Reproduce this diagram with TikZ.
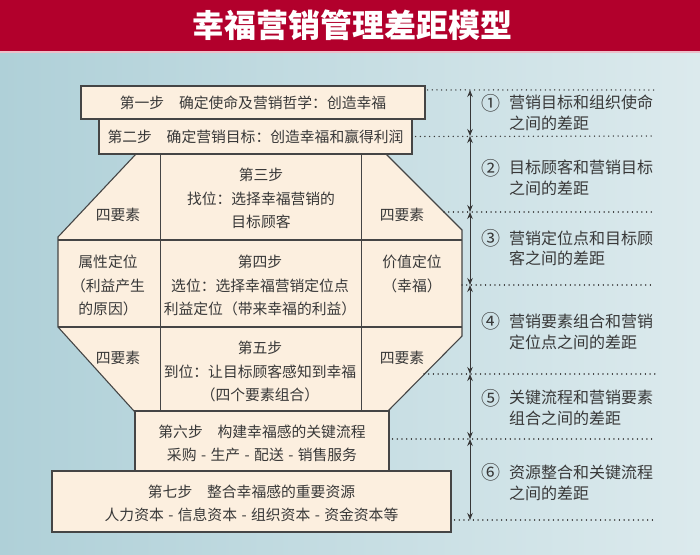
\documentclass[tikz,border=0pt]{standalone}
\usepackage{fontspec}
\newfontfamily\cjk{Noto Sans CJK SC}
\usetikzlibrary{arrows.meta,calc}
\definecolor{bgL}{HTML}{AFD0D8}
\definecolor{bgR}{HTML}{DCEAED}
\definecolor{titlered}{HTML}{B2002C}
\definecolor{cream}{HTML}{FCEFDF}
\definecolor{ink}{HTML}{383838}
\definecolor{edge}{HTML}{454545}
\newcommand{\sepdash}{\hspace{0.3em}-\hspace{0.3em}}
\begin{document}
\begin{tikzpicture}[x=1pt,y=-1pt,
 txt/.style={font=\cjk\fontsize{14.8}{23.3}\selectfont, text=ink, align=center, inner sep=0pt},
 lbl/.style={font=\cjk\fontsize{16}{20.5}\selectfont, text=ink, align=left, anchor=west, inner sep=0pt},
 num/.style={font=\cjk\fontsize{19}{20.5}\selectfont, text=ink, inner sep=0pt},
 stepbox/.style={draw=edge, fill=cream, line width=1.1pt, inner sep=0pt, align=center,
   font=\cjk\fontsize{14.8}{23.3}\selectfont, text=ink},
 gapline/.style={draw=ink, line width=1.5pt, dash pattern=on 0.01pt off 4.7pt, line cap=round},
 gaparrow/.style={draw=ink, line width=0.9pt, {Stealth[length=7pt,width=5.5pt]}-{Stealth[length=7pt,width=5.5pt]}}
]
\useasboundingbox (0,0) rectangle (700,554);
\shade[left color=bgL, right color=bgR] (0,51) rectangle (700,554);
\fill[titlered] (0,0) rectangle (700,51);
\fill[white!75!titlered] (0,51) rectangle (700,53);
\node[font=\cjk\bfseries\fontsize{32}{34}\selectfont, text=white, inner sep=0pt] (title) at (352,25) {幸福营销管理差距模型};

% octagon
\draw[stepbox] (136,154) -- (386,154) -- (462,230) -- (462,336) -- (388,411) -- (134,411) -- (58,327) -- (58,237) -- cycle;
\draw[edge, line width=1.1pt] (160.5,154) -- (160.5,411) (361.5,154) -- (361.5,411)
  (58,240) -- (462,240) (58,327) -- (462,327);

% step boxes
\node[stepbox, minimum width=344pt, minimum height=33pt] (s1) at (253,102.5) {第一步\hspace{1em}确定使命及营销哲学：创造幸福};
\node[stepbox, minimum width=313pt, minimum height=35pt] (s2) at (255.5,136.5) {第二步\hspace{1em}确定营销目标：创造幸福和赢得利润};
\node[stepbox, minimum width=254pt, minimum height=60pt] (s6) at (262,441) {};
\node[txt] (t6) at (262,443.5) {第六步\hspace{1em}构建幸福感的关键流程\\采购\sepdash 生产\sepdash 配送\sepdash 销售服务};
\node[stepbox, minimum width=399pt, minimum height=61pt] (s7) at (251.5,501.5) {};
\node[txt] (t7) at (251.5,503.5) {第七步\hspace{1em}整合幸福感的重要资源\\人力资本\sepdash 信息资本\sepdash 组织资本\sepdash 资金资本等};

% octagon cells
\node[txt] (c3) at (261,198.5) {第三步\\找位：选择幸福营销的\\目标顾客};
\node[txt] (l3) at (118,215) {四要素};
\node[txt] (r3) at (402,215) {四要素};
\node[txt] (l4) at (108,285.5) {属性定位\\（利益产生\\的原因）};
\node[txt] (c4) at (260,285.5) {第四步\\选位：选择幸福营销定位点\\利益定位（带来幸福的利益）};
\node[txt] (r4) at (412,274) {价值定位\\（幸福）};
\node[txt] (l5) at (118,358) {四要素};
\node[txt] (r5) at (402,358) {四要素};
\node[txt] (c5) at (260,371.5) {第五步\\到位：让目标顾客感知到幸福\\（四个要素组合）};

% dotted level lines
\coordinate (e1) at (655,90);
\coordinate (e2) at (655,136);
\coordinate (e3) at (655,212);
\coordinate (e4) at (655,285);
\coordinate (e5) at (655,374);
\coordinate (e6) at (655,439);
\coordinate (e7) at (655,520);
\coordinate (b3) at (444,212);
\coordinate (b4) at (462,285);
\coordinate (b5) at (424,374);
\draw[gapline] ($(s1.north east)+(2,4.5)$) -- (e1);
\draw[gapline] ($(s2.east)+(3,0)$) -- (e2);
\draw[gapline] (b3) -- (e3);
\draw[gapline] (b4) -- (e4);
\draw[gapline] (b5) -- (e5);
\draw[gapline] ($(s6.east)+(3,-2)$) -- (e6);
\draw[gapline] ($(s7.east)+(3,18.5)$) -- (e7);

% arrows
\coordinate (a1) at (470,90);
\coordinate (a2) at (470,136);
\coordinate (a3) at (470,212);
\coordinate (a4) at (470,285);
\coordinate (a5) at (470,374);
\coordinate (a6) at (470,439);
\coordinate (a7) at (470,520);
\draw[gaparrow] (a1) -- (a2);
\draw[gaparrow] (a2) -- (a3);
\draw[gaparrow] (a3) -- (a4);
\draw[gaparrow] (a4) -- (a5);
\draw[gaparrow] (a5) -- (a6);
\draw[gaparrow] (a6) -- (a7);

% labels
\node[num] (n1) at (491,103) {①};
\node[lbl] (g1) at (509,113) {营销目标和组织使命\\之间的差距};
\node[num] (n2) at (491,168) {②};
\node[lbl] (g2) at (509,178) {目标顾客和营销目标\\之间的差距};
\node[num] (n3) at (491,238) {③};
\node[lbl] (g3) at (509,248.5) {营销定位点和目标顾\\客之间的差距};
\node[num] (n4) at (491,321.7) {④};
\node[lbl] (g4) at (509,331.7) {营销要素组合和营销\\定位点之间的差距};
\node[num] (n5) at (491,398) {⑤};
\node[lbl] (g5) at (509,408) {关键流程和营销要素\\组合之间的差距};
\node[num] (n6) at (491,472.7) {⑥};
\node[lbl] (g6) at (509,483) {资源整合和关键流程\\之间的差距};
\end{tikzpicture}
\end{document}
